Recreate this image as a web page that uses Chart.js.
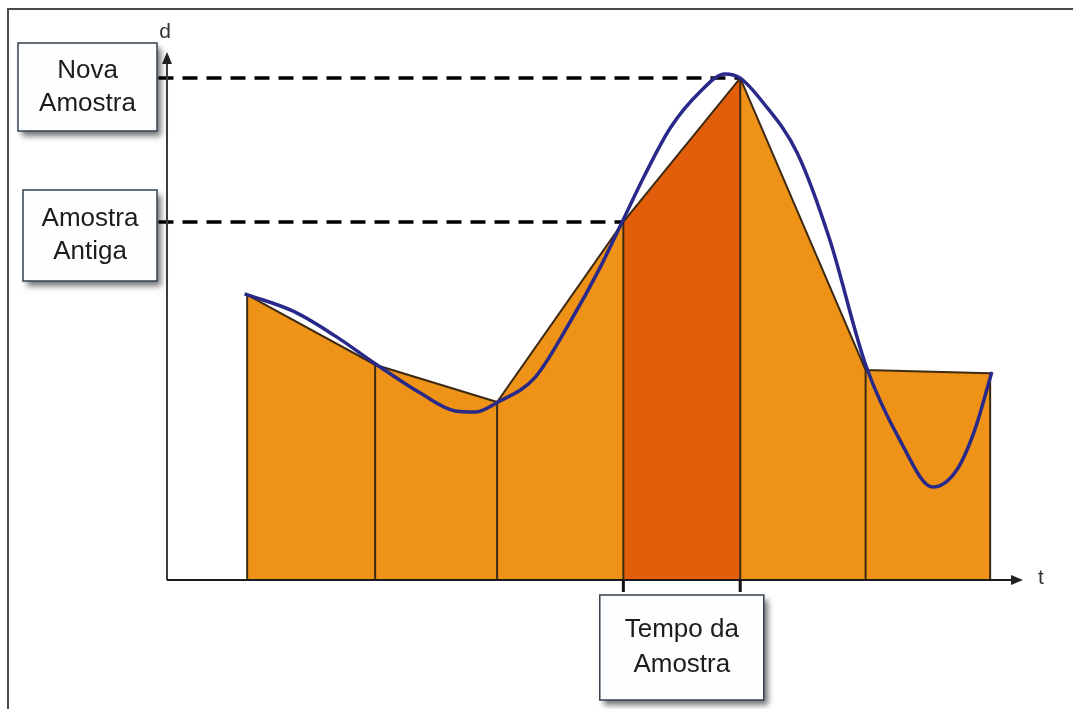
<!DOCTYPE html>
<html>
<head>
<meta charset="utf-8">
<script src="https://cdn.jsdelivr.net/npm/chart.js@4"></script>
<style>
  body { margin: 0; background: #fff; }
  #wrap { width: 1073px; height: 709px; position: relative; }
</style>
</head>
<body>
<div id="wrap"><canvas id="sampleChart"></canvas></div>
<script>
// sample instants (t) and held values (d)
const sampleTimes = [9.4, 24.4, 38.7, 53.5, 67.2, 81.9, 96.5];
const sampleValues = [54.3, 41.0, 33.9, 68.2, 95.6, 40.0, 39.4];
// index of the old / new sample around the highlighted interval
const oldIdx = 3;
const newIdx = 4;

// continuous signal (blue curve)
const signalTimes = [9.1, 14.8, 19.7, 24.6, 29.7, 33.8, 36.1, 38.8, 43.1, 47.2, 50.8, 53.3, 56.0, 59.0, 62.5, 65.4, 67.2, 69.9, 73.9, 77.7, 81.9, 85.9, 89.8, 92.6, 94.7, 96.7];
const signalValues = [54.5, 51.2, 46.5, 41.0, 35.6, 32.2, 32.0, 33.9, 38.5, 49.0, 59.6, 68.0, 77.1, 86.1, 93.0, 96.4, 95.6, 90.9, 81.3, 64.8, 41.0, 26.7, 17.7, 21.0, 28.6, 39.6];

const labelNew = ["Nova", "Amostra"];
const labelOld = ["Amostra", "Antiga"];
const labelTime = ["Tempo da", "Amostra"];

const samplePts = sampleTimes.map((t, i) => ({ x: t, y: sampleValues[i] }));
const highlightPts = [samplePts[oldIdx], samplePts[newIdx]];
const verticalPts = [];
sampleTimes.forEach((t, i) => {
    verticalPts.push({ x: t, y: 0 }, { x: t, y: sampleValues[i] }, { x: t, y: null });
});
const signalPts = signalTimes.map((t, i) => ({ x: t, y: signalValues[i] }));

const FONT = "Arial, 'Liberation Sans', sans-serif";

function drawBox(ctx, x, y, w, h, lines, lineH) {
    ctx.save();
    ctx.shadowColor = "rgba(0,0,0,0.55)";
    ctx.shadowBlur = 6;
    ctx.shadowOffsetX = 4;
    ctx.shadowOffsetY = 5;
    ctx.fillStyle = "#fdfeff";
    ctx.fillRect(x, y, w, h);
    ctx.restore();
    ctx.save();
    ctx.strokeStyle = "#34414f";
    ctx.lineWidth = 1.5;
    ctx.strokeRect(x, y, w, h);
    ctx.fillStyle = "#1c1c1c";
    ctx.font = "26px " + FONT;
    ctx.textAlign = "center";
    ctx.textBaseline = "middle";
    const cy = y + h / 2 - (lines.length - 1) * lineH / 2;
    lines.forEach((s, i) => ctx.fillText(s, x + w / 2, cy + i * lineH));
    ctx.restore();
}

const overlay = {
    id: "overlay",
    afterDatasetsDraw(chart) {
        const { ctx, scales: { x, y } } = chart;
        const x0 = x.getPixelForValue(0);
        const y0 = y.getPixelForValue(0);
        const xEnd = x.getPixelForValue(100);
        const yTop = y.getPixelForValue(100);
        ctx.save();
        // y axis
        ctx.strokeStyle = "#3c3c3c";
        ctx.lineWidth = 2;
        ctx.beginPath();
        ctx.moveTo(x0, y0);
        ctx.lineTo(x0, yTop + 4);
        ctx.stroke();
        ctx.fillStyle = "#222";
        ctx.beginPath();
        ctx.moveTo(x0, yTop - 3);
        ctx.lineTo(x0 - 5, yTop + 9);
        ctx.lineTo(x0 + 5, yTop + 9);
        ctx.closePath();
        ctx.fill();
        // x axis
        ctx.strokeStyle = "#1a1a1a";
        ctx.beginPath();
        ctx.moveTo(x0, y0);
        ctx.lineTo(xEnd - 4, y0);
        ctx.stroke();
        ctx.beginPath();
        ctx.moveTo(xEnd + 3, y0);
        ctx.lineTo(xEnd - 9, y0 - 5);
        ctx.lineTo(xEnd - 9, y0 + 5);
        ctx.closePath();
        ctx.fill();
        // ticks under the highlighted interval
        ctx.strokeStyle = "#111";
        ctx.lineWidth = 3;
        [oldIdx, newIdx].forEach(i => {
            const px = x.getPixelForValue(sampleTimes[i]);
            ctx.beginPath();
            ctx.moveTo(px, y0);
            ctx.lineTo(px, y0 + 12);
            ctx.stroke();
        });
        // axis names
        ctx.fillStyle = "#333";
        ctx.font = "21px " + FONT;
        ctx.textAlign = "center";
        ctx.textBaseline = "middle";
        ctx.fillText("d", x0 - 2, yTop - 23);
        ctx.fillText("t", xEnd + 21, y0 - 2);
        ctx.restore();
    },
    afterDraw(chart) {
        const { ctx, scales: { x } } = chart;
        // frame
        ctx.save();
        ctx.strokeStyle = "#4a4a4a";
        ctx.lineWidth = 2;
        ctx.beginPath();
        ctx.moveTo(8, 709);
        ctx.lineTo(8, 9);
        ctx.lineTo(1073, 9);
        ctx.stroke();
        ctx.restore();
        drawBox(ctx, 18, 43, 139, 88, labelNew, 33);
        drawBox(ctx, 23, 190, 134, 91, labelOld, 33);
        const xa = x.getPixelForValue(sampleTimes[oldIdx]);
        const xb = x.getPixelForValue(sampleTimes[newIdx]);
        const cx = (xa + xb) / 2;
        drawBox(ctx, cx - 82, 595, 164, 105, labelTime, 35);
    }
};

new Chart(document.getElementById("sampleChart").getContext("2d"), {
    type: "line",
    data: {
        datasets: [
            {   // held samples fill
                data: samplePts,
                fill: "origin",
                backgroundColor: "#ee9317",
                borderWidth: 0,
                pointRadius: 0,
                tension: 0,
                order: 9
            },
            {   // current interval
                data: highlightPts,
                fill: "origin",
                backgroundColor: "#e25e0a",
                borderWidth: 0,
                pointRadius: 0,
                tension: 0,
                order: 8
            },
            {   // sample outline
                data: samplePts,
                fill: false,
                borderColor: "#3d2a12",
                borderWidth: 2,
                pointRadius: 0,
                tension: 0,
                order: 7
            },
            {   // verticals
                data: verticalPts,
                fill: false,
                borderColor: "#3d2a12",
                borderWidth: 2,
                pointRadius: 0,
                spanGaps: false,
                tension: 0,
                order: 6
            },
            {   // new sample level
                data: [{ x: -1, y: sampleValues[newIdx] }, { x: sampleTimes[newIdx], y: sampleValues[newIdx] }],
                fill: false,
                borderColor: "#000",
                borderWidth: 3.5,
                borderDash: [15, 9],
                pointRadius: 0,
                clip: false,
                order: 5
            },
            {   // old sample level
                data: [{ x: -1, y: sampleValues[oldIdx] }, { x: sampleTimes[oldIdx], y: sampleValues[oldIdx] }],
                fill: false,
                borderColor: "#000",
                borderWidth: 3.5,
                borderDash: [15, 9],
                pointRadius: 0,
                clip: false,
                order: 4
            },
            {   // signal
                data: signalPts,
                fill: false,
                borderColor: "#29298a",
                borderWidth: 3.5,
                pointRadius: 0,
                tension: 0.4,
                cubicInterpolationMode: "monotone",
                clip: false,
                order: 1
            }
        ]
    },
    options: {
        responsive: true,
        maintainAspectRatio: false,
        animation: false,
        layout: { padding: { left: 167, right: 53, top: 55, bottom: 129 } },
        scales: {
            x: { type: "linear", min: 0, max: 100, display: false },
            y: { min: 0, max: 100, display: false }
        },
        plugins: {
            legend: { display: false },
            tooltip: { enabled: false }
        }
    },
    plugins: [overlay]
});
</script>
</body>
</html>
